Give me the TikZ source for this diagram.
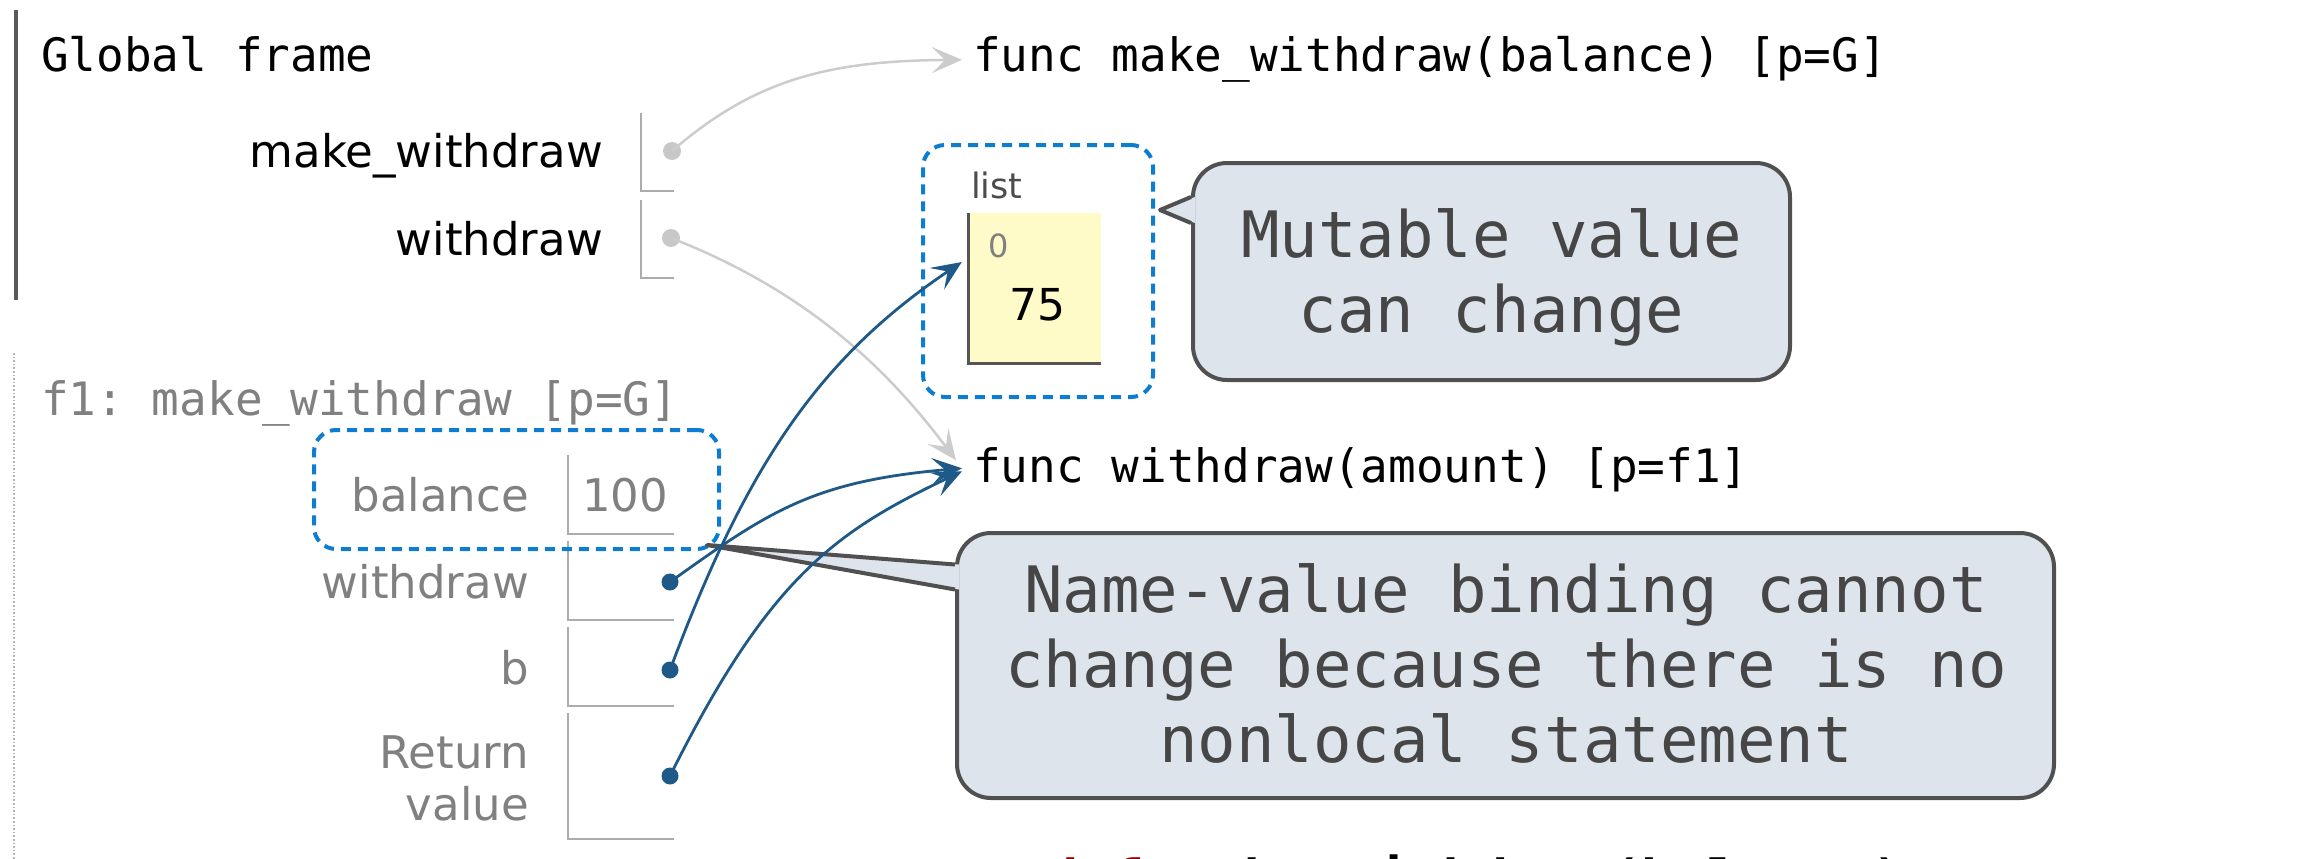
\documentclass[tikz,border=0pt]{standalone}
\usepackage{fontspec}
\setmainfont{DejaVu Sans}
\setmonofont{DejaVu Sans Mono}
\usetikzlibrary{arrows.meta,calc}

\definecolor{ptrblue}{RGB}{31,89,135}
\definecolor{hiblue}{RGB}{12,125,208}
\definecolor{arrowgray}{RGB}{204,204,204}
\definecolor{dotgray}{RGB}{200,200,200}
\definecolor{slotgray}{RGB}{172,172,172}
\definecolor{fgray}{RGB}{128,128,128}
\definecolor{cellyellow}{RGB}{255,251,200}
\definecolor{celledge}{RGB}{85,85,85}
\definecolor{calloutfill}{RGB}{221,228,236}
\definecolor{calloutedge}{RGB}{80,80,80}
\definecolor{callouttxt}{RGB}{70,70,70}
\definecolor{keyred}{RGB}{140,0,0}
\definecolor{framebar}{RGB}{90,90,90}
\definecolor{framedots}{RGB}{180,180,180}

\begin{document}
\begin{tikzpicture}[x=1pt,y=-1pt,
  mono/.style={inner sep=0pt, font=\ttfamily\fontsize{46}{55}\selectfont},
  title/.style={mono, anchor=base west},
  funcobj/.style={mono, anchor=base west, text=black},
  varname/.style={anchor=base east, inner sep=0pt, font=\fontsize{45}{54}\selectfont},
  gname/.style={varname, text=black},
  fname/.style={varname, text=fgray},
  slot/.style={draw=slotgray, line width=2.5pt},
  gdot/.style={circle, fill=dotgray, inner sep=0pt, minimum size=18pt},
  bdot/.style={circle, fill=ptrblue, inner sep=0pt, minimum size=17pt},
  tip/.style={-{Stealth[length=30pt,width=26pt,inset=13pt]}},
  gptr/.style={tip, draw=arrowgray, line width=2.5pt},
  bptr/.style={tip, draw=ptrblue, line width=2.8pt},
  hilite/.style={draw=hiblue, line width=4pt, dash pattern=on 10pt off 7pt,
    rounded corners=22pt, inner sep=0pt},
  callout/.style={draw=calloutedge, fill=calloutfill, line width=4pt,
    rounded corners=34pt, inner sep=0pt},
  callouttext/.style={inner sep=0pt, align=center, text=callouttxt,
    font=\ttfamily\fontsize{64}{75}\selectfont},
  wedge/.style={draw=calloutedge, line width=4pt, line join=round}]

\useasboundingbox (0,0) rectangle (2305,859);
\clip (0,0) rectangle (2305,859);

% ---- global frame ----
\draw[framebar, line width=4pt] (16,10) -- (16,300);
\node[title] (gft) at (41,72) {Global frame};
\node[gname] (gmw) at (603,167) {make\_withdraw};
\node[gname] (gw) at (603,255) {withdraw};
\draw[slot] (641,113) -- (641,191) -- (674,191);
\draw[slot] (641,200) -- (641,278) -- (674,278);
\node[gdot] (gd1) at (672,151) {};
\node[gdot] (gd2) at (671,238) {};

% ---- frame f1 ----
\draw[framedots, line width=2pt, dash pattern=on 1.6pt off 2pt] (14,353) -- (14,859);
\node[title, text=fgray] (f1t) at (41,415) {f1: make\_withdraw [p=G]};
\node[fname] (fbal) at (529,511) {balance};
\node[varname, anchor=base west, text=fgray] (fbalv) at (582,511) {100};
\node[fname] (fw) at (529,598) {withdraw};
\node[fname] (fb) at (529,684) {b};
\node[fname] (fr1) at (529,768) {Return};
\node[fname] (fr2) at (529,820) {value};
\draw[slot] (568,455) -- (568,534) -- (674,534);
\draw[slot] (568,541) -- (568,620) -- (674,620);
\draw[slot] (568,627) -- (568,706) -- (674,706);
\draw[slot] (568,713) -- (568,839) -- (674,839);
\node[bdot] (bd1) at (670,582) {};
\node[bdot] (bd2) at (670,670) {};
\node[bdot] (bd3) at (670,776) {};

% ---- heap objects ----
\node[funcobj] (fmw) at (973,72) {func make\_withdraw(balance) [p=G]};
\node[funcobj] (fwd) at (973,482) {func withdraw(amount) [p=f1]};

\node[anchor=base west, inner sep=0pt, text=black!70, font=\fontsize{35}{42}\selectfont] (ltype) at (971,198) {list};
\node[fill=cellyellow, inner sep=0pt, minimum width=132pt, minimum height=150pt] (cell) at (1035,288) {};
\draw[celledge, line width=3pt] (cell.north west) -- (cell.south west) -- (cell.south east);
\node[anchor=base west, inner sep=0pt, text=fgray, font=\fontsize{32}{38}\selectfont] (lidx) at (988,257) {0};
\node[anchor=base, inner sep=0pt, text=black, font=\fontsize{44}{53}\selectfont] (lval) at (1037,320) {75};

% ---- highlighted bindings ----
\node[hilite, minimum width=230pt, minimum height=252pt] (listhl) at (1038,271) {};
\node[hilite, minimum width=405pt, minimum height=119pt] (balhl) at (516.5,489.5) {};

% ---- callouts ----
\node[callout, minimum width=597pt, minimum height=217pt] (c1) at (1491.5,271.5) {};
\coordinate (c1tip) at ($(listhl.east)+(5,-61)$);
\fill[calloutfill] (c1tip) -- ($(c1.west)+(4,-74.5)$) -- ($(c1.west)+(4,-48.5)$) -- cycle;
\draw[wedge] ($(c1.west)+(0,-74.5)$) -- (c1tip) -- ($(c1.west)+(0,-48.5)$);
\node[callouttext] (c1t) at ($(c1.center)+(0,6)$) {Mutable value\\can change};

\node[callout, minimum width=1097pt, minimum height=265pt] (c2) at (1505.5,665.5) {};
\coordinate (c2tip) at ($(balhl.south east)+(-14,-6)$);
\fill[calloutfill] (c2tip) -- ($(c2.west)+(4,-101)$) -- ($(c2.west)+(4,-76)$) -- cycle;
\draw[wedge] ($(c2.west)+(0,-101)$) -- (c2tip) -- ($(c2.west)+(0,-76)$);
\node[callouttext] (c2t) at ($(c2.center)+(0.5,-2.3)$) {Name-value binding cannot\\change because there is no\\nonlocal statement};

% ---- pointers ----
\draw[gptr] (gd1.center) .. controls +(84,-73) and +(-130,1) .. ($(fmw.west)+(-11,0)$);
\draw[gptr] (gd2.center) .. controls +(139,54) and +(-66,-88) .. ($(fwd.west)+(-17,-9)$);
\draw[bptr] (bd1.center) .. controls +(98,-70) and +(-150,13) .. ($(fwd.west)+(-11,-1)$);
\draw[bptr] (bd2.center) .. controls +(77,-207) and +(-141,95) .. ($(cell.west)+(-7,-26)$);
\draw[bptr] (bd3.center) .. controls +(99,-199) and +(-126,60) .. ($(fwd.west)+(-11,2)$);

% ---- source line below ----
\node[anchor=base west, inner sep=0pt, font=\ttfamily\bfseries\fontsize{55}{66}\selectfont] (code) at (1045,899) {\textcolor{keyred}{def} make\_withdraw(balance):};
\end{tikzpicture}
\end{document}
